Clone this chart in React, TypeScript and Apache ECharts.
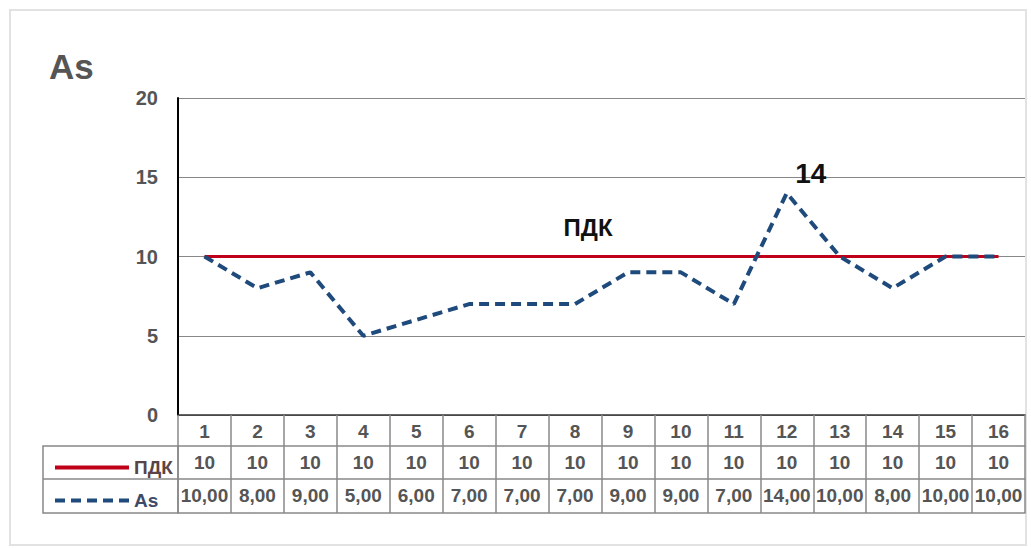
import React, { useEffect, useRef } from "react";
import * as echarts from "echarts";

const categories = ["1", "2", "3", "4", "5", "6", "7", "8", "9", "10", "11", "12", "13", "14", "15", "16"];
const pdkValues = [10, 10, 10, 10, 10, 10, 10, 10, 10, 10, 10, 10, 10, 10, 10, 10];
const asValues = [10, 8, 9, 5, 6, 7, 7, 7, 9, 9, 7, 14, 10, 8, 10, 10];
const yTicks = [0, 5, 10, 15, 20];

const FONT = "'Liberation Sans', Arial, sans-serif";
const GRAY = "#555555";
const BORDER = "#888888";

export default function App() {
  const ref = useRef<HTMLDivElement>(null);
  useEffect(() => {
    if (!ref.current) return;
    const chart = echarts.init(ref.current, undefined, { renderer: "svg" });

    const pdkData = pdkValues.map((v, i) =>
      i === 7
        ? {
            value: v,
            label: {
              show: true,
              position: "top",
              formatter: "ПДК",
              fontSize: 24,
              fontWeight: "bold",
              color: "#111",
              fontFamily: FONT,
              offset: [13, -12],
            },
          }
        : v
    );
    const maxIdx = asValues.indexOf(Math.max(...asValues));
    const asData = asValues.map((v, i) =>
      i === maxIdx
        ? {
            value: v,
            label: {
              show: true,
              position: "top",
              formatter: String(v),
              fontSize: 28,
              fontWeight: "bold",
              color: "#111",
              fontFamily: FONT,
              offset: [24, -1],
            },
          }
        : v
    );

    const fmt = (v: number) => v.toFixed(2).replace(".", ",");

    const tableAxis = (offset: number, data: string[], tickLen: number, show = true) => ({
      type: "category",
      position: "bottom",
      gridIndex: 0,
      offset,
      data,
      boundaryGap: true,
      axisLine: { show: true, lineStyle: { color: BORDER, width: 1.5 } },
      axisTick: { show: show, interval: 0, length: tickLen, lineStyle: { color: BORDER, width: 1.5 } },
      axisLabel: {
        show: show,
        interval: 0,
        margin: 7,
        fontSize: 19,
        fontWeight: "bold",
        color: GRAY,
        fontFamily: FONT,
      },
      splitLine: { show: false },
    });

    chart.setOption({
      animation: false,
      backgroundColor: "#ffffff",
      title: {
        text: "As",
        left: 44,
        top: 44,
        textStyle: { fontSize: 35, fontWeight: "bold", color: GRAY, fontFamily: FONT },
      },
      legend: {
        orient: "vertical",
        left: 48,
        top: 453,
        itemWidth: 74,
        itemHeight: 14,
        itemGap: 14,
        selectedMode: false,
        itemStyle: { opacity: 0, borderWidth: 0 },
        lineStyle: { width: 4 },
        textStyle: { fontSize: 19, fontWeight: "bold", color: "#4d4d4d", fontFamily: FONT },
        data: [
          { name: "ПДК", textStyle: { color: "#5a4446" } },
          { name: "As", textStyle: { color: "#3d4b66" } },
        ],
      },
      grid: { left: 178, right: 6, top: 98, bottom: 133, containLabel: false },
      xAxis: [
        {
          ...tableAxis(0, categories, 31),
          axisLine: { show: true, lineStyle: { color: "#333", width: 1.5 } },
        },
        tableAxis(31, pdkValues.map(String), 33),
        tableAxis(64, asValues.map(fmt), 34),
        tableAxis(98, categories, 0, false),
      ],
      yAxis: {
        type: "value",
        min: yTicks[0],
        max: yTicks[yTicks.length - 1],
        interval: 5,
        axisLine: { show: true, lineStyle: { color: "#000", width: 2 } },
        axisTick: { show: false },
        axisLabel: { margin: 20, fontSize: 20, fontWeight: "bold", color: GRAY, fontFamily: FONT },
        splitLine: { show: true, lineStyle: { color: BORDER, width: 1.2 } },
      },
      graphic: [
        {
          type: "rect",
          shape: { x: 10, y: 10, width: 1016, height: 535 },
          style: { fill: "none", stroke: "#e2e2e2", lineWidth: 2 },
          silent: true,
          z: -1,
        },
        {
          type: "rect",
          shape: { x: 43, y: 446, width: 135, height: 67 },
          style: { fill: "none", stroke: BORDER, lineWidth: 1.5 },
          silent: true,
        },
        {
          type: "line",
          shape: { x1: 43, y1: 479, x2: 178, y2: 479 },
          style: { stroke: BORDER, lineWidth: 1.5 },
          silent: true,
        },
      ],
      series: [
        {
          name: "ПДК",
          type: "line",
          xAxisIndex: 0,
          data: pdkData,
          symbol: "circle",
          symbolSize: 0,
          showSymbol: true,
          lineStyle: { color: "#c00018", width: 3 },
          itemStyle: { color: "#c00018" },
          z: 2,
        },
        {
          name: "As",
          type: "line",
          xAxisIndex: 0,
          data: asData,
          symbol: "circle",
          symbolSize: 0,
          showSymbol: true,
          lineStyle: { color: "#1f4a7c", width: 4, type: [10, 6] },
          itemStyle: { color: "#1f4a7c" },
          z: 3,
        },
      ],
    });
    return () => chart.dispose();
  }, []);
  return (
    <div
      ref={ref}
      style={{ position: "fixed", left: 0, top: 0, width: 1031, height: 548, background: "#fff" }}
    />
  );
}
